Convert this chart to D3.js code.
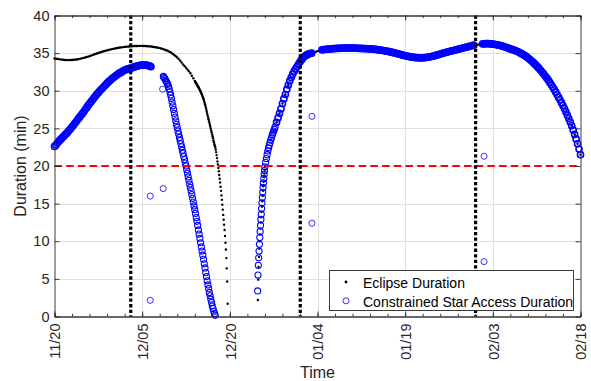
<!DOCTYPE html>
<html>
<head>
<meta charset="utf-8">
<script src="https://cdn.jsdelivr.net/npm/d3@7/dist/d3.min.js"></script>
<style>
  body { margin: 0; background: #fff; }
  svg { font-family: "Liberation Sans", Arial, Helvetica, sans-serif; }
</style>
</head>
<body>
<div id="chart"></div>
<script>
// all times are days after 11/20, values in minutes
var startDate = '2019-11-20'
var endDate = '2020-02-18'
var xTickDates = ['2019-11-20', '2019-12-05', '2019-12-20', '2020-01-04', '2020-01-19', '2020-02-03', '2020-02-18']
var yTicks = [0, 5, 10, 15, 20, 25, 30, 35, 40]
var threshold = 20
var markerDays = [13.05, 42.05, 72.05]

var eclipseSegs = [
  {start: 0, step: 0.25, values: [34.29, 34.26, 34.23, 34.2, 34.17, 34.14, 34.11, 34.09, 34.08, 34.07, 34.07, 34.08, 34.09, 34.11, 34.13, 34.16,
    34.19, 34.23, 34.27, 34.32, 34.37, 34.42, 34.48, 34.54, 34.6, 34.67, 34.74, 34.81, 34.88, 34.95, 35.02, 35.09,
    35.15, 35.21, 35.27, 35.32, 35.37, 35.42, 35.47, 35.52, 35.56, 35.6, 35.64, 35.68, 35.71, 35.74, 35.77, 35.8,
    35.83, 35.85, 35.87, 35.89, 35.91, 35.92, 35.93, 35.94, 35.95, 35.95, 35.96, 35.96, 35.96, 35.95, 35.94, 35.93,
    35.92, 35.9, 35.88, 35.85, 35.82, 35.79, 35.75, 35.71, 35.67, 35.62, 35.56, 35.49, 35.42, 35.34, 35.25, 35.15,
    35.04, 34.9, 34.76, 34.6, 34.42, 34.22, 34.0, 33.75, 33.48, 33.28, 33.05, 32.83, 32.6, 32.32, 32.0, 31.66]},
  {start: 24.006, step: 0.076, values: [31.3, 31.2, 31.1, 31.0, 30.9, 30.8, 30.7, 30.6, 30.49, 30.38, 30.27, 30.15, 30.03, 29.91,
    29.77, 29.62, 29.47, 29.32, 29.16, 29.0, 28.84, 28.64, 28.42, 28.2, 27.97, 27.73, 27.47, 27.2, 26.95, 26.7,
    26.45, 26.2, 25.95, 25.7, 25.45, 25.2, 24.95, 24.7, 24.45, 24.2, 23.95, 23.7, 23.4, 23.15, 22.9, 22.7,
    22.5, 22.2, 21.85, 21.45, 21.05, 20.6, 20.2, 19.75, 19.3, 18.8, 18.3, 17.8, 17.25, 16.7, 16.1, 15.5,
    14.85, 14.2, 13.5, 12.85, 12.2, 11.5, 10.7, 9.8, 8.9, 7.76, 6.4, 4.65, 1.69]},
  {start: 34.8, step: 0.0625, values: [2.2, 4.9, 6.6, 7.9, 9.0, 10.0, 10.9, 11.7, 12.5, 13.2, 13.9, 14.6, 15.3, 16.0, 16.7, 17.3,
    17.9, 18.5, 19.0, 19.5, 20.0]},
  {start: 36.5, step: 0.5, values: [22.0, 23.45, 24.65, 25.8, 27.0, 28.3, 29.5, 30.75, 31.75, 32.6, 33.2, 33.85, 34.35, 34.7, 34.9]},
  {start: 43.75, step: 0.25, values: [34.95, 35.0, 35.05, 35.12, 35.2, 35.27, 35.33, 35.39, 35.44, 35.46, 35.48]},
  {start: 46.5, step: 0.5, values: [35.5, 35.54, 35.58, 35.61, 35.63, 35.65, 35.66, 35.67, 35.67, 35.67, 35.66, 35.64, 35.62, 35.6,
    35.58, 35.56, 35.53, 35.49, 35.43, 35.37, 35.31, 35.24, 35.16, 35.06, 34.96, 34.86, 34.76, 34.65, 34.57,
    34.49, 34.43, 34.39, 34.37, 34.38, 34.41, 34.47, 34.55, 34.65, 34.76, 34.88, 35.0, 35.1, 35.2, 35.3,
    35.4, 35.5, 35.6, 35.7, 35.8, 35.9]},
  {start: 71.25, step: 0.25, values: [35.95, 36.0, 36.05, 36.08, 36.1, 36.13, 36.16, 36.19, 36.22, 36.24, 36.25]},
  {start: 74, step: 0.5, values: [36.25, 36.24, 36.2, 36.14, 36.06, 35.96, 35.84, 35.7, 35.56, 35.43, 35.28, 35.1, 34.9, 34.66,
    34.38, 34.05, 33.7, 33.3, 32.88, 32.42, 31.93, 31.4, 30.8, 30.18, 29.5, 28.8, 28.03, 27.2, 26.3, 25.35,
    24.2, 22.95, 21.5]}
]

var accessSegs = [
  {start: 0, step: 0.25, values: [22.6, 22.8, 23.05, 23.3, 23.5, 23.7, 23.9, 24.1, 24.3, 24.5, 24.75, 24.95, 25.2, 25.45, 25.7, 25.95,
    26.2, 26.45, 26.7, 26.95, 27.2, 27.5, 27.75, 28.05, 28.3, 28.55, 28.8, 29.05, 29.3, 29.55, 29.75, 30.0,
    30.2, 30.4, 30.6, 30.8, 31.0, 31.2, 31.35, 31.55, 31.7, 31.85, 32.0, 32.15, 32.3, 32.4, 32.5, 32.65,
    32.75, 32.8, 32.9, 32.95, 33.0, 33.05, 33.1, 33.2, 33.25, 33.3, 33.35, 33.4, 33.4, 33.45, 33.45, 33.4,
    33.35, 33.3, 33.2]},
  {start: 18.625, step: 0.125, values: [31.9, 31.75, 31.6, 31.4, 31.25, 31.05, 30.85, 30.6, 30.25, 29.85, 29.45, 29.0, 28.5, 28.0,
    27.5, 27.0, 26.5, 26.0, 25.55, 25.1, 24.65, 24.25, 23.8, 23.4, 22.95, 22.55, 22.1, 21.7, 21.25, 20.85,
    20.4, 20.0, 19.5, 19.05, 18.55, 18.1, 17.6, 17.15, 16.7, 16.2, 15.7, 15.2, 14.7, 14.2, 13.7, 13.15,
    12.65, 12.1, 11.5, 10.95, 10.4, 9.8, 9.25, 8.7, 8.15, 7.6, 7.0, 6.45, 5.85, 5.3, 4.75, 4.2,
    3.7, 3.2, 2.75, 2.3, 1.85, 1.4, 1.05, 0.7, 0.4, 0.15]},
  {start: 34.75, step: 0.0625, values: [3.4, 5.5, 6.8, 7.8, 8.7, 9.6, 10.5, 11.3, 12.1, 12.9, 13.6, 14.35, 15.1, 15.8, 16.5, 17.15,
    17.75, 18.35, 18.9, 19.4, 19.9]},
  {start: 36.125, step: 0.125, values: [20.5, 21.0, 21.5, 22.0, 22.4, 22.75, 23.1, 23.45, 23.75, 24.1, 24.4, 24.65, 24.9, 25.2]},
  {start: 38, step: 0.25, values: [25.8, 26.4, 27.0, 27.6, 28.3, 28.95, 29.5, 30.2, 30.75, 31.3, 31.75, 32.2, 32.6, 32.9, 33.2, 33.55,
    33.85, 34.1, 34.35, 34.55, 34.7, 34.8, 34.9, 34.95, 35.0]},
  {start: 45.75, step: 0.25, values: [35.44, 35.46, 35.48, 35.5, 35.52, 35.54, 35.56, 35.58, 35.6, 35.61, 35.62, 35.63, 35.64, 35.65,
    35.66, 35.66, 35.67, 35.67, 35.67, 35.67, 35.67, 35.67, 35.66, 35.66, 35.65, 35.64, 35.63, 35.62,
    35.61, 35.6, 35.59, 35.58, 35.57, 35.56, 35.55, 35.53, 35.51, 35.49, 35.46, 35.43, 35.4, 35.37,
    35.34, 35.31, 35.28, 35.24, 35.2, 35.16, 35.11, 35.06, 35.01, 34.96, 34.91, 34.86, 34.81, 34.76,
    34.7, 34.65, 34.61, 34.57, 34.53, 34.49, 34.46, 34.43, 34.41, 34.39, 34.38, 34.37, 34.37, 34.38,
    34.39, 34.41, 34.44, 34.47, 34.51, 34.55, 34.6, 34.65, 34.7, 34.76, 34.82, 34.88, 34.94, 35.0,
    35.05, 35.1, 35.15, 35.2, 35.25, 35.3, 35.35, 35.4, 35.45, 35.5, 35.55, 35.6, 35.65, 35.7,
    35.75, 35.8, 35.85, 35.9, 35.95, 36.0, 36.05]},
  {start: 73.25, step: 0.25, values: [36.22, 36.24, 36.25, 36.25, 36.25, 36.24, 36.22, 36.2, 36.17, 36.14, 36.1, 36.06, 36.01, 35.96,
    35.9, 35.84, 35.77, 35.7, 35.63, 35.56, 35.5, 35.43, 35.36, 35.28, 35.2, 35.1, 35.0, 34.9,
    34.78, 34.66, 34.53, 34.38, 34.22, 34.05, 33.88, 33.7, 33.5, 33.3, 33.1, 32.88, 32.65, 32.42,
    32.18, 31.93, 31.67, 31.4, 31.1, 30.8, 30.5, 30.18, 29.85, 29.5, 29.15, 28.8, 28.42, 28.03,
    27.63, 27.2, 26.75, 26.3, 25.85, 25.35, 24.8, 24.2, 23.6, 22.95, 22.25, 21.5]}
]

// stray short accesses next to the gaps
var accessOutliers = [[16.38, 16.0], [16.38, 2.15], [18.5, 30.2], [18.6, 17.0], [44.05, 26.6], [44.05, 12.4], [73.5, 21.3], [73.5, 7.3]]

var width = 591
var height = 381
// plot box (window.top is reserved, so use own names)
var pLeft = 54.5, pRight = 580.5, pTop = 15.5, pBottom = 316.5
var axisColor = '#262626'

var parse = d3.timeParse('%Y-%m-%d')
var t0 = parse(startDate)
var t1 = parse(endDate)

function dayToDate(d) {
  return new Date(t0.getTime() + d * 864e5)
}

// flatten segments; keep the sample step so the dense runs can be stroked heavier
function expand(segs) {
  var pts = []
  segs.forEach(function (s) {
    s.values.forEach(function (v, i) {
      pts.push([s.start + i * s.step, v, s.step])
    })
  })
  return pts
}

var x = d3.scaleTime().domain([t0, t1]).range([pLeft, pRight])
var y = d3.scaleLinear().domain([0, 40]).range([pBottom, pTop])

var svg = d3.select('#chart').append('svg')
  .attr('width', width)
  .attr('height', height)

var majorDates = xTickDates.map(parse)
var minorDates = d3.range(0, 91, 3).map(dayToDate)

// grid
svg.append('g').selectAll('line')
  .data(majorDates.slice(1, -1))
  .enter().append('line')
  .attr('x1', function (d) { return Math.round(x(d)) + 0.5 })
  .attr('x2', function (d) { return Math.round(x(d)) + 0.5 })
  .attr('y1', pTop).attr('y2', pBottom)
  .attr('stroke', '#dfdfdf').attr('stroke-width', 1)

svg.append('g').selectAll('line')
  .data(yTicks.slice(1, -1))
  .enter().append('line')
  .attr('y1', function (d) { return Math.round(y(d)) + 0.5 })
  .attr('y2', function (d) { return Math.round(y(d)) + 0.5 })
  .attr('x1', pLeft).attr('x2', pRight)
  .attr('stroke', '#dfdfdf').attr('stroke-width', 1)

// eclipse durations (dots)
svg.append('g').selectAll('circle')
  .data(expand(eclipseSegs))
  .enter().append('circle')
  .attr('cx', function (d) { return x(dayToDate(d[0])) })
  .attr('cy', function (d) { return y(d[1]) })
  .attr('r', 1.2)
  .attr('fill', '#000')

// constrained star access durations (open circles)
svg.append('g').selectAll('circle')
  .data(expand(accessSegs).concat(accessOutliers))
  .enter().append('circle')
  .attr('cx', function (d) { return x(dayToDate(d[0])) })
  .attr('cy', function (d) { return y(d[1]) })
  .attr('r', 3.05)
  .attr('fill', 'none')
  .attr('stroke', '#0000ff')
  .attr('stroke-width', function (d) {
    if (!d[2]) return 0.8
    return d[2] >= 0.25 ? 1.6 : 1.1
  })

// 20 min requirement
svg.append('line')
  .attr('x1', pLeft).attr('x2', pRight)
  .attr('y1', y(threshold)).attr('y2', y(threshold))
  .attr('stroke', '#ff0000').attr('stroke-width', 2.2)
  .attr('stroke-dasharray', '7.5,4.2')

svg.append('g').selectAll('line')
  .data(markerDays)
  .enter().append('line')
  .attr('x1', function (d) { return x(dayToDate(d)) })
  .attr('x2', function (d) { return x(dayToDate(d)) })
  .attr('y1', pTop).attr('y2', pBottom)
  .attr('stroke', '#000').attr('stroke-width', 3.2)
  .attr('stroke-dasharray', '3.3,2.25')

// axes, ticks pointing inwards like matlab
var fmt = d3.timeFormat('%m/%d')

svg.append('g')
  .attr('transform', 'translate(0,' + pBottom + ')')
  .call(d3.axisBottom(x).tickValues(minorDates).tickSize(-2.7).tickFormat(''))
svg.append('g')
  .attr('transform', 'translate(0,' + pTop + ')')
  .call(d3.axisTop(x).tickValues(minorDates).tickSize(-2.7).tickFormat(''))

var xAxis = svg.append('g')
  .attr('class', 'x axis')
  .attr('transform', 'translate(0,' + pBottom + ')')
  .call(d3.axisBottom(x).tickValues(majorDates).tickFormat(fmt).tickSizeInner(-5).tickSizeOuter(0))

xAxis.selectAll('text')
  .attr('transform', 'rotate(-90)')
  .attr('text-anchor', 'end')
  .attr('x', -7)
  .attr('y', 0)
  .attr('dy', '0.36em')

svg.append('g')
  .attr('transform', 'translate(0,' + pTop + ')')
  .call(d3.axisTop(x).tickValues(majorDates).tickFormat('').tickSizeInner(-5).tickSizeOuter(0))

svg.append('g')
  .attr('class', 'y axis')
  .attr('transform', 'translate(' + pLeft + ',0)')
  .call(d3.axisLeft(y).tickValues(yTicks).tickSizeInner(-5).tickSizeOuter(0).tickPadding(5))

svg.append('g')
  .attr('transform', 'translate(' + pRight + ',0)')
  .call(d3.axisRight(y).tickValues(yTicks).tickFormat('').tickSizeInner(-5).tickSizeOuter(0))

svg.selectAll('.domain, .tick line').attr('stroke', axisColor).attr('stroke-width', 0.9)
svg.selectAll('.tick text')
  .attr('fill', axisColor)
  .style('font-size', '14.5px')
  .style('font-family', '"Liberation Sans", Arial, sans-serif')

svg.append('text')
  .attr('transform', 'translate(25.5,' + ((pTop + pBottom) / 2) + ') rotate(-90)')
  .attr('text-anchor', 'middle')
  .attr('fill', axisColor)
  .style('font-size', '16px')
  .text('Duration (min)')

svg.append('text')
  .attr('x', (pLeft + pRight) / 2)
  .attr('y', 377.5)
  .attr('text-anchor', 'middle')
  .attr('fill', axisColor)
  .style('font-size', '16px')
  .text('Time')

// legend
var legend = svg.append('g').attr('transform', 'translate(329.5,270.5)')
legend.append('rect')
  .attr('width', 244).attr('height', 40)
  .attr('fill', '#fff')
  .attr('stroke', axisColor).attr('stroke-width', 0.9)

legend.append('circle')
  .attr('cx', 16.5).attr('cy', 11.5).attr('r', 1.4).attr('fill', '#000')
legend.append('circle')
  .attr('cx', 16.5).attr('cy', 30.3).attr('r', 3.05)
  .attr('fill', 'none').attr('stroke', '#0000ff').attr('stroke-width', 0.8)

legend.append('text')
  .attr('x', 33.5).attr('y', 17.5)
  .style('font-size', '14px')
  .text('Eclipse Duration')
legend.append('text')
  .attr('x', 33.5).attr('y', 36.5)
  .style('font-size', '14px')
  .text('Constrained Star Access Duration')
</script>
</body>
</html>
